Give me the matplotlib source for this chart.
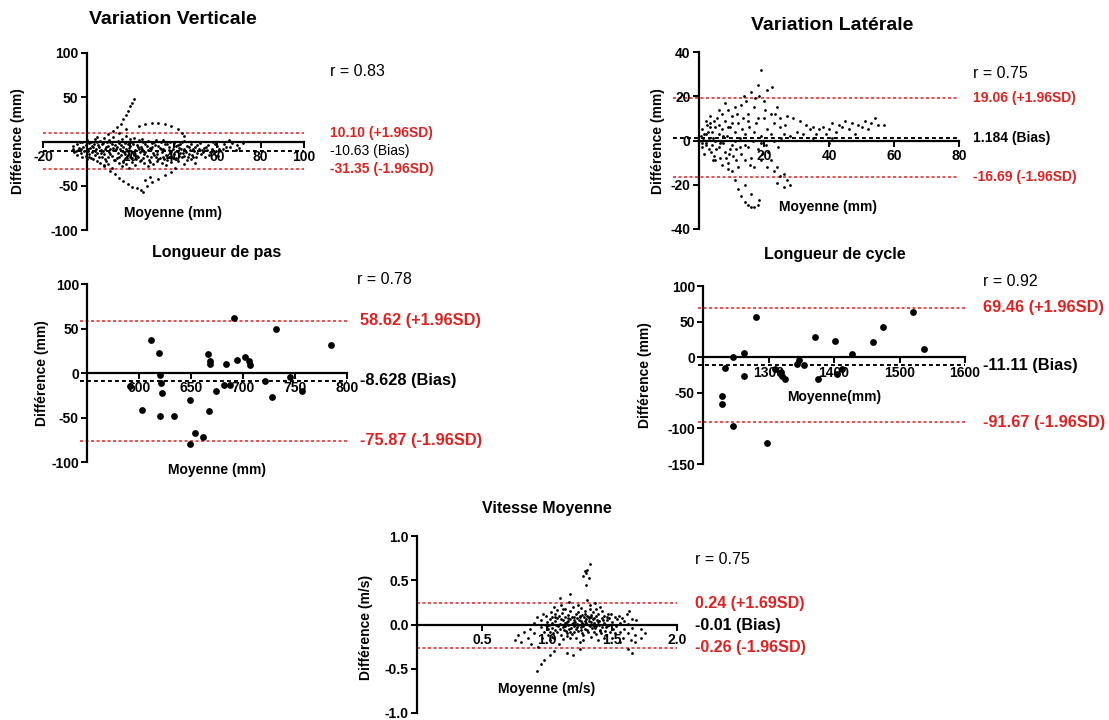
import numpy as np
import matplotlib
matplotlib.use("Agg")
import matplotlib.pyplot as plt
import matplotlib.transforms as mtransforms

plt.rcParams['font.family'] = ['Liberation Sans', 'DejaVu Sans']
plt.rcParams['font.weight'] = 'bold'
plt.rcParams['axes.unicode_minus'] = False

W, H = 1109, 720
RED = '#e3201f'

# ---- data ----
vert_pts = [
    (-6.3, -8), (-5.7, -12), (-6.0, -5), (-4.2, -3), (-3.8, -10), (-4.5, -15), (-3.6, -7),
    (-2.1, 0), (-1.7, -6), (-2.4, -13), (-1.9, -18), (-2.6, -9),
    (0.3, 2), (-0.4, -4), (0.6, -11), (-0.2, -16), (0.1, -20), (0.8, -8),
    (2.2, -1), (1.6, -7), (2.7, -12), (1.9, -19), (2.4, -5), (1.3, -14),
    (4.1, 3), (3.6, -3), (4.4, -9), (3.8, -15), (4.7, -22), (4.0, -11),
    (6.2, 1), (5.7, -6), (6.5, -10), (5.9, -17), (6.3, -24), (6.8, -13), (5.5, -4),
    (8.1, 4), (7.6, -2), (8.4, -8), (7.9, -14), (8.6, -20), (8.2, -27), (7.4, -11),
    (10.2, 2), (9.7, -5), (10.5, -12), (9.9, -18), (10.7, -9), (10.1, -25), (9.5, 0),
    (12.0, 5), (11.6, -3), (12.4, -10), (11.8, -16), (12.6, -21), (12.2, -7), (11.5, -30),
    (14.3, 1), (13.8, -6), (14.6, -13), (14.0, -19), (14.8, -24), (13.6, -9),
    (16.1, 3), (15.7, -4), (16.4, -11), (15.9, -15), (16.6, -22), (16.2, -28), (15.5, -8),
    (18.0, 6), (17.6, -2), (18.3, -8), (17.8, -14), (18.6, -19), (18.2, -25), (17.4, -12),
    (20.2, 0), (19.7, -7), (20.5, -11), (19.9, -17), (20.8, -23), (20.1, -5), (19.5, -30),
    (22.0, 4), (21.6, -3), (22.4, -10), (21.8, -15), (22.7, -20), (22.2, -26), (21.4, -13),
    (24.1, 2), (23.7, -6), (24.5, -12), (23.9, -18), (24.7, -22), (24.3, -9),
    (26.0, -1), (25.6, -8), (26.4, -14), (25.8, -19), (26.6, -24), (26.2, -11), (25.4, 3),
    (28.1, 1), (27.7, -5), (28.5, -10), (27.9, -16), (28.7, -21), (28.3, -28),
    (30.2, -2), (29.8, -9), (30.5, -13), (29.6, -18), (30.8, -25), (30.0, -6),
    (32.0, 2), (31.6, -4), (32.4, -11), (31.8, -17), (32.6, -22), (32.2, -14),
    (34.1, -1), (33.7, -7), (34.5, -12), (33.9, -19), (34.7, -24), (34.3, -9),
    (36.0, -3), (35.6, -10), (36.4, -15), (35.8, -20), (36.6, -27),
    (38.2, 0), (37.8, -6), (38.5, -13), (37.9, -18), (38.7, -23), (38.1, -10),
    (40.0, -2), (39.6, -8), (40.4, -14), (39.8, -19), (40.6, -30),
    (42.1, -4), (41.7, -11), (42.5, -16), (41.9, -22), (42.3, -7),
    (44.0, -1), (43.6, -9), (44.4, -13), (43.8, -18), (44.6, -25),
    (46.2, -5), (45.8, -12), (46.5, -17), (46.0, -21),
    (48.1, -3), (47.7, -10), (48.4, -15), (47.9, -20),
    (50.0, -6), (49.6, -11), (50.4, -18), (49.8, -24),
    (52.2, -2), (51.8, -9), (52.5, -14), (54.1, -7), (53.7, -12), (54.4, -17),
    (56.0, -4), (55.6, -10), (56.3, -15), (58.2, -1), (57.8, -8), (58.5, -13),
    (60.1, -5), (59.7, -11), (60.4, -16), (63.0, -3), (62.6, -9),
    (66.1, -6), (65.7, 2), (69.0, -4), (68.6, -10), (72.0, -2),
    (-5, -10.5), (-3, -1), (-1, -11), (1, -2), (1, -17), (3, -6), (3, -20), (5, -1), (5, -13),
    (7, -3), (7, -18), (9, -6), (9, -22), (11, -1), (11, -14), (13, -4), (13, -21), (15, -2),
    (15, -17), (17, -6), (17, -23), (19, -3), (19, -15), (21, -1), (21, -19), (23, -4),
    (23, -16), (25, -6), (25, -21), (27, -3), (27, -12), (29, -7), (29, -23), (31, -1),
    (31, -15), (33, -5), (33, -20), (35, -8), (35, -17), (37, -3), (37, -21), (39, -11),
    (39, -16), (41, -5), (41, -19), (43, -13), (43, -3), (45, -8), (45, -16), (47, -6),
    (47, -14), (49, -8), (49, -17), (51, -4), (51, -13), (53, -10), (55, -6), (57, -12),
    (59, -3), (61, -9), (64, -6), (67, -2), (70, -7), (5, 5), (20, 3), (35, 2), (45, 1),
    # fringe going up
    (10, 8), (12, 12), (14, 16), (16, 20), (17, 25), (18, 30), (19, 35), (20, 40),
    (21, 44), (22, 48), (15, 10), (18, 14),
    (24, 18), (27, 20), (30, 21), (33, 21), (36, 20), (39, 18), (42, 14), (44, 10), (45, 6),
    # fringe going down
    (8, -28), (11, -33), (13, -37), (15, -41), (17, -45), (19, -48), (21, -51), (23, -53),
    (25, -55), (26, -57), (28, -50), (30, -46), (33, -42), (36, -38), (39, -35), (27, -44), (29, -40),
]

lat_pts = [
    (0, 0), (0.5, 2), (1, -3), (1, 5), (1.5, -6), (2, 3), (2, -1), (2.5, 7), (3, -4), (3, 1),
    (3.5, 8), (4, -2), (4, 4), (4.5, -7), (5, 6), (5, 0), (5.5, 10), (6, -3), (6, 3), (6.5, -8),
    (7, 12), (7, 5), (7.5, -1), (8, -5), (8, 9), (8.5, 2), (9, -10), (9, 14), (9.5, 6), (10, -2),
    (10, 11), (10.5, -7), (11, 4), (11, 15), (11.5, -4), (12, 8), (12, -12), (12.5, 1), (13, 16),
    (13, -6), (13.5, 10), (14, -9), (14, 3), (14.5, 18), (15, -3), (15, 12), (15.5, 6), (16, 22),
    (16, -8), (16.5, 0), (17, 15), (17, -12), (17.5, 8), (18, 25), (18, -4), (18.5, 20), (19, 32),
    (19, 2), (19.5, -6), (20, 18), (20, 10), (20.5, -2), (21, 23), (21, 5), (22, 12), (22, -9),
    (22.5, 24), (23, 8), (23, 0), (24, 15), (24, -12), (25, 6), (25, 10), (26, 3), (26, -15),
    (5, -9), (7, -11), (9, -13), (6, 14), (8, 17), (1.2, 1), (2.8, 4), (4.2, 1), (6.8, 0),
    (0.8, -1), (1.6, 3), (2.3, -2), (3.3, 6), (3.8, -5), (4.6, 9), (5.3, -4), (6.1, 7),
    (6.6, -1), (7.3, 2), (8.2, -8), (8.8, 6), (9.6, -4), (10.3, 8), (11.2, 0), (11.8, 12),
    (12.7, -3), (13.3, 5), (14.3, -2), (15.2, 9), (15.8, -11), (16.8, 4), (17.3, 19), (18.3, 10),
    (19.2, -1), (20.3, 14), (21.3, -5), (22.3, 3), (23.3, 12), (24.3, -3), (25.3, 1), (26.5, 7),
    (13.7, 20), (11.4, -9), (9.3, -6), (4.2, -9), (3.4, 11), (2.1, 9),
    # lower branch
    (10, -14), (11, -18), (12, -22), (13, -25), (14, -28), (15, -29), (16, -30), (17, -30),
    (18, -29), (18.5, -27), (14, -20), (16, -24), (19, -9), (21, -12), (23, -14), (25, -16),
    (27, -18), (28, -20), (24, -19), (26, -21),
    # right tail
    (27, 11), (29, 10), (31, 9), (33, 7), (35, 6), (37, 5), (39, 3), (41, 8), (43, 7), (45, 9),
    (47, 8), (49, 7), (51, 9), (53, 8), (55, 7), (57, 7), (30, 4), (32, 3), (34, 5), (36, 3),
    (38, 6), (40, 5), (42, 4), (44, 6), (46, 5), (48, 3), (50, 6), (52, 5), (54, 10), (28, 2),
    (35, 1), (40, -1), (41, 1),
]

pas_moy = [591, 603, 611, 619, 620, 621, 622, 620, 633, 649, 654, 649, 661, 666, 668, 668,
           667, 674, 684, 682, 687, 691, 694, 702, 706, 707, 721, 728, 732, 745, 757, 785]
pas_diff = [-15, -42, 37, 23, -2, -11, -23, -48, -48, -30, -67, -80, -72, 21, 14, 10,
            -43, -20, 10, -14, -13, 62, 15, 18, 14, 9, -9, -27, 49, -5, -20, 31]

cyc_moy = [1228, 1229, 1234, 1245, 1246, 1262, 1263, 1280, 1297, 1310, 1319, 1321, 1325,
           1343, 1347, 1354, 1371, 1375, 1402, 1405, 1412, 1427, 1459, 1475, 1520, 1537]
cyc_diff = [-54, -66, -15, -96, 0, 6, -27, 57, -121, -16, -21, -26, -30,
            -10, -4, -11, 29, -30, 23, -24, -17, 5, 21, 43, 64, 11]

vit_pts = [
    (0.75, -0.18), (0.78, -0.12), (0.80, -0.20), (0.82, -0.08), (0.85, -0.15), (0.87, -0.05),
    (0.88, -0.22), (0.90, 0.02), (0.90, -0.10), (0.92, 0.08), (0.93, -0.25), (0.95, -0.03),
    (0.95, 0.05), (0.96, -0.15), (0.97, 0.12), (0.98, -0.08), (0.99, 0.00),
    (1.00, 0.03), (1.005, -0.05), (0.995, 0.10), (1.01, -0.12), (1.00, -0.02),
    (1.02, -0.08), (1.025, 0.06), (1.015, 0.00), (1.02, -0.18), (1.03, 0.14),
    (1.04, 0.02), (1.045, -0.10), (1.035, 0.09), (1.04, -0.04), (1.05, 0.20),
    (1.06, -0.06), (1.065, 0.04), (1.055, -0.15), (1.06, 0.12), (1.07, 0.00),
    (1.08, 0.07), (1.085, -0.02), (1.075, -0.09), (1.08, 0.16), (1.09, -0.22),
    (1.10, 0.01), (1.105, -0.12), (1.095, 0.10), (1.10, -0.05), (1.11, 0.22),
    (1.12, -0.03), (1.125, 0.05), (1.115, 0.13), (1.12, -0.16), (1.13, 0.00),
    (1.14, 0.08), (1.145, -0.07), (1.135, 0.02), (1.14, 0.18), (1.15, -0.10),
    (1.16, -0.01), (1.165, 0.11), (1.155, -0.13), (1.16, 0.04), (1.17, 0.25),
    (1.18, 0.06), (1.185, -0.04), (1.175, 0.15), (1.18, -0.08), (1.19, 0.01),
    (1.20, 0.02), (1.205, 0.09), (1.195, -0.11), (1.20, 0.20), (1.21, -0.02),
    (1.22, -0.05), (1.225, 0.12), (1.215, 0.03), (1.22, -0.15), (1.23, 0.07),
    (1.24, 0.00), (1.245, 0.05), (1.235, 0.14), (1.24, -0.07), (1.25, -0.20),
    (1.26, 0.04), (1.265, -0.03), (1.255, 0.10), (1.26, 0.19), (1.27, -0.10),
    (1.28, -0.02), (1.285, 0.08), (1.275, 0.01), (1.28, -0.12), (1.29, 0.15),
    (1.30, 0.06), (1.305, -0.06), (1.295, 0.12), (1.30, 0.02), (1.31, 0.28),
    (1.32, -0.01), (1.325, 0.09), (1.315, -0.09), (1.32, 0.04), (1.33, 0.17),
    (1.34, 0.03), (1.345, -0.04), (1.335, 0.11), (1.34, -0.14), (1.35, 0.00),
    (1.36, 0.07), (1.365, -0.08), (1.355, 0.14), (1.36, 0.02), (1.37, 0.24),
    (1.38, -0.02), (1.385, 0.05), (1.375, -0.11), (1.38, 0.10), (1.39, -0.18),
    (1.40, 0.04), (1.405, -0.06), (1.395, 0.12), (1.40, 0.00), (1.41, 0.20),
    (1.42, -0.03), (1.425, 0.07), (1.415, -0.10), (1.42, 0.15),
    (1.44, 0.02), (1.445, -0.07), (1.435, 0.10), (1.44, -0.15),
    (1.46, 0.05), (1.465, -0.02), (1.455, -0.12), (1.46, 0.09),
    (1.48, 0.00), (1.485, -0.09), (1.475, 0.07),
    (1.50, 0.03), (1.505, -0.05), (1.495, 0.12), (1.50, -0.15),
    (1.53, -0.02), (1.535, 0.06), (1.525, -0.10),
    (1.56, 0.02), (1.565, -0.08), (1.555, 0.10), (1.56, -0.20),
    (1.59, -0.05), (1.595, 0.04), (1.585, -0.15),
    (1.62, 0.01), (1.625, -0.10), (1.615, 0.12), (1.62, -0.28),
    (1.65, -0.04), (1.655, 0.06), (1.645, -0.18), (1.65, -0.32),
    (1.68, -0.20), (1.685, 0.05), (1.675, -0.12), (1.72, -0.15), (1.72, -0.05), (1.75, -0.10),
    (1.11, 0.06), (1.13, -0.06), (1.15, 0.03), (1.17, -0.05), (1.19, 0.09), (1.21, 0.05),
    (1.23, -0.03), (1.25, 0.08), (1.27, 0.02), (1.29, -0.05), (1.31, 0.10), (1.33, -0.02),
    (1.35, 0.06), (1.37, -0.04), (1.39, 0.03), (1.41, -0.07), (1.43, 0.05), (1.45, -0.03),
    (1.12, 0.17), (1.18, -0.15), (1.24, 0.22), (1.28, -0.17), (1.33, 0.22), (1.38, 0.18),
    (1.06, 0.08), (1.04, -0.14), (1.47, 0.12), (1.52, 0.08), (1.58, 0.07), (1.63, 0.15),
    (1.27, 0.11), (1.23, 0.01), (1.26, -0.06), (1.29, 0.04), (1.32, 0.07), (1.21, -0.08),
    (1.16, 0.07), (1.14, -0.02), (1.36, -0.02), (1.34, 0.08),
    # upper spike
    (1.28, 0.55), (1.29, 0.60), (1.30, 0.58), (1.31, 0.62), (1.32, 0.52), (1.33, 0.68),
    (1.30, 0.45), (1.18, 0.35), (1.10, 0.30),
    # lower fringe
    (0.92, -0.53), (0.95, -0.45), (0.98, -0.40), (1.02, -0.35), (1.05, -0.30), (1.15, -0.32),
    (1.20, -0.35), (1.25, -0.28),
]

# limits of agreement: (upper, bias, lower) and their labels
vert_lines = (10.10, -10.63, -31.35)
lat_lines = (19.06, 1.184, -16.69)
pas_lines = (58.62, -8.628, -75.87)
cyc_lines = (69.46, -11.11, -91.67)
vit_lines = (0.24, -0.01, -0.26)

vert_labels = ['10.10 (+1.96SD)', '-10.63 (Bias)', '-31.35 (-1.96SD)']
lat_labels = ['19.06 (+1.96SD)', '1.184 (Bias)', '-16.69 (-1.96SD)']
pas_labels = ['58.62 (+1.96SD)', '-8.628 (Bias)', '-75.87 (-1.96SD)']
cyc_labels = ['69.46 (+1.96SD)', '-11.11 (Bias)', '-91.67 (-1.96SD)']
vit_labels = ['0.24 (+1.69SD)', '-0.01 (Bias)', '-0.26 (-1.96SD)']

fig = plt.figure(figsize=(W / 100, H / 100), dpi=100)


def px(x, y):
    return x / W, 1 - y / H


def panel(box, xlim, ylim, x0, xticks, yticks, xfmt, yfmt):
    l, t, r, b = box
    ax = fig.add_axes([l / W, 1 - b / H, (r - l) / W, (b - t) / H])
    ax.set_xlim(*xlim)
    ax.set_ylim(*ylim)
    ax.spines['top'].set_visible(False)
    ax.spines['right'].set_visible(False)
    ax.spines['left'].set_position(('data', x0))
    ax.spines['bottom'].set_position(('data', 0))
    for s in ('left', 'bottom'):
        ax.spines[s].set_linewidth(1.6)
    ax.set_xticks(xticks)
    ax.set_yticks(yticks)
    ax.set_xticklabels([xfmt.format(v) for v in xticks])
    ax.set_yticklabels([yfmt.format(v) for v in yticks])
    ax.tick_params(direction='out', length=4, width=1.4, labelsize=10, pad=2)
    ax.patch.set_alpha(0)
    return ax


def lines(ax, vals):
    up, bias, lo = vals
    ax.axhline(up, color=RED, lw=1.1, dashes=(2, 1.6), zorder=1)
    ax.axhline(lo, color=RED, lw=1.1, dashes=(2, 1.6), zorder=1)
    ax.axhline(bias, color='black', lw=1.4, dashes=(2, 1.6), zorder=1)


def side_labels(ax, vals, labels, xpix, size, weights):
    tr = mtransforms.blended_transform_factory(fig.transFigure, ax.transData)
    for v, lab, c, w in zip(vals, labels, [RED, 'black', RED], weights):
        ax.text(xpix / W, v, lab, transform=tr, color=c, fontsize=size,
                fontweight=w, va='center', ha='left', clip_on=False)


def ftext(x, y, s, **kw):
    fig.text(*px(x, y), s, **kw)


# Variation Verticale
ax1 = panel((43, 53, 304, 230), (-20, 100), (-100, 100), 0,
            [-20, 20, 40, 60, 80, 100], [-100, -50, 50, 100], '{:d}', '{:d}')
lines(ax1, vert_lines)
v = np.array(vert_pts)
ax1.scatter(v[:, 0], v[:, 1], s=4, c='black', linewidths=0, zorder=3)
side_labels(ax1, vert_lines, vert_labels, 330, 10, ['bold', 'normal', 'bold'])
ftext(173, 20, 'Variation Verticale', fontsize=14, ha='center', va='center')
ftext(173, 213, 'Moyenne (mm)', fontsize=10, ha='center', va='center')
ftext(18, 141, 'Différence (mm)', fontsize=10, ha='center', va='center', rotation=90)
ftext(330, 71, 'r = 0.83', fontsize=11.5, fontweight='normal', va='center')

# Variation Latérale
ax2 = panel((673, 52, 959, 229), (-8, 80), (-40, 40), 0,
            [20, 40, 60, 80], [-40, -20, 0, 20, 40], '{:d}', '{:d}')
ax2.spines['bottom'].set_bounds(0, 80)
lines(ax2, lat_lines)
v = np.array(lat_pts)
ax2.scatter(v[:, 0], v[:, 1], s=4, c='black', linewidths=0, zorder=3)
side_labels(ax2, lat_lines, lat_labels, 973, 10, ['bold'] * 3)
ftext(832, 25, 'Variation Latérale', fontsize=14, ha='center', va='center')
ftext(828, 207, 'Moyenne (mm)', fontsize=10, ha='center', va='center')
ftext(658, 141, 'Différence (mm)', fontsize=10, ha='center', va='center', rotation=90)
ftext(973, 74, 'r = 0.75', fontsize=11.5, fontweight='normal', va='center')

# Longueur de pas
ax3 = panel((80, 284, 347, 462), (543, 800), (-100, 100), 550,
            [600, 650, 700, 750, 800], [-100, -50, 0, 50, 100], '{:d}', '{:d}')
ax3.spines['bottom'].set_bounds(550, 800)
lines(ax3, pas_lines)
ax3.scatter(pas_moy, pas_diff, s=24, c='black', linewidths=0, zorder=3)
side_labels(ax3, pas_lines, pas_labels, 360, 11.8, ['bold'] * 3)
ftext(217, 253, 'Longueur de pas', fontsize=11.5, ha='center', va='center')
ftext(217, 470, 'Moyenne (mm)', fontsize=10, ha='center', va='center')
ftext(42, 373, 'Différence (mm)', fontsize=10, ha='center', va='center', rotation=90)
ftext(357, 280, 'r = 0.78', fontsize=11.5, fontweight='normal', va='center')

# Longueur de cycle
ax4 = panel((698, 286, 965, 464), (1192, 1600), (-150, 100), 1200,
            [1300, 1400, 1500, 1600], [-150, -100, -50, 0, 50, 100], '{:d}', '{:d}')
ax4.spines['bottom'].set_bounds(1200, 1600)
lines(ax4, cyc_lines)
ax4.scatter(cyc_moy, cyc_diff, s=24, c='black', linewidths=0, zorder=3)
side_labels(ax4, cyc_lines, cyc_labels, 983, 11.8, ['bold'] * 3)
ftext(835, 254, 'Longueur de cycle', fontsize=11.5, ha='center', va='center')
ftext(834, 397, 'Moyenne(mm)', fontsize=10, ha='center', va='center')
ftext(645, 375, 'Différence (mm)', fontsize=10, ha='center', va='center', rotation=90)
ftext(983, 282, 'r = 0.92', fontsize=11.5, fontweight='normal', va='center')

# Vitesse Moyenne
ax5 = panel((417, 536, 677, 713), (0, 2.0), (-1.0, 1.0), 0,
            [0.5, 1.0, 1.5, 2.0], [-1.0, -0.5, 0.0, 0.5, 1.0], '{:.1f}', '{:.1f}')
ax5.spines['bottom'].set_bounds(0, 2.0)
lines(ax5, vit_lines)
v = np.array(vit_pts)
ax5.scatter(v[:, 0], v[:, 1], s=4, c='black', linewidths=0, zorder=3)
side_labels(ax5, vit_lines, vit_labels, 695, 11.6, ['bold'] * 3)
ftext(547, 509, 'Vitesse Moyenne', fontsize=11.5, ha='center', va='center')
ftext(547, 689, 'Moyenne (m/s)', fontsize=10, ha='center', va='center')
ftext(366, 627, 'Différence (m/s)', fontsize=10, ha='center', va='center', rotation=90)
ftext(695, 559, 'r = 0.75', fontsize=11.5, fontweight='normal', va='center')

fig.savefig('out.png', dpi=100)
